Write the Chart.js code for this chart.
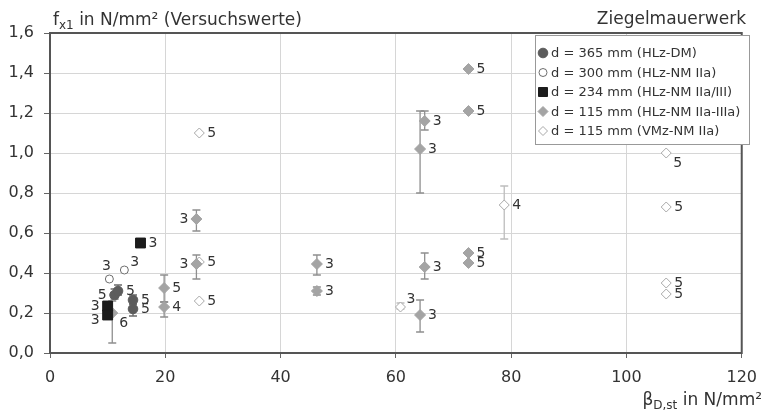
<!DOCTYPE html>
<html>
<head>
<meta charset="utf-8">
<script src="https://cdn.jsdelivr.net/npm/chart.js@4.4.1/dist/chart.umd.min.js"></script>
<style>
  html, body { margin: 0; padding: 0; background: #fff; }
  #wrap { width: 767px; height: 415px; position: relative; }
</style>
</head>
<body>
<div id="wrap"><canvas id="chart"></canvas></div>
<script>
// Axis ticks
const xTicks = [0, 20, 40, 60, 80, 100, 120];
const yTicks = [0, 0.2, 0.4, 0.6, 0.8, 1.0, 1.2, 1.4, 1.6];

// d = 365 mm (HLz-DM)
const x365 = [11.2, 11.8, 14.4, 14.4];
const y365 = [0.29, 0.31, 0.265, 0.22];
const lo365 = [0.27, 0.29, 0.245, 0.185];
const hi365 = [0.32, 0.34, 0.29, 0.245];
const n365 = [5, 5, 5, 5];
const side365 = ['l', 'r', 'r', 'r'];

// d = 300 mm (HLz-NM IIa)
const x300 = [10.3, 12.9];
const y300 = [0.37, 0.415];
const lo300 = [null, null];
const hi300 = [null, null];
const n300 = [3, 3];
const side300 = ['t', 'rt'];

// d = 234 mm (HLz-NM IIa/III)
const x234 = [10.0, 10.0, 15.7];
const y234 = [0.235, 0.19, 0.55];
const lo234 = [null, null, null];
const hi234 = [null, null, null];
const n234 = [3, 3, 3];
const side234 = ['l', 'lb', 'r'];

// d = 115 mm (HLz-NM IIa-IIIa)
const x115h = [10.8, 19.8, 19.8, 25.4, 25.4, 46.3, 46.3, 64.2, 65.0, 72.6, 72.6, 72.6, 72.6, 65.0, 64.2];
const y115h = [0.20, 0.325, 0.23, 0.67, 0.445, 0.445, 0.31, 1.02, 1.16, 1.42, 1.21, 0.50, 0.45, 0.43, 0.19];
const lo115h = [0.05, 0.255, 0.18, 0.61, 0.37, 0.39, 0.29, 0.80, 1.115, null, null, null, null, 0.37, 0.105];
const hi115h = [0.26, 0.39, 0.255, 0.715, 0.49, 0.49, 0.33, 1.21, 1.21, null, null, null, null, 0.50, 0.265];
const n115h = [6, 5, 4, 3, 3, 3, 3, 3, 3, 5, 5, 5, 5, 3, 3];
const side115h = ['rb', 'r', 'r', 'l', 'l', 'r', 'r', 'r', 'r', 'r', 'r', 'r', 'r', 'r', 'r'];

// d = 115 mm (VMz-NM IIa)
const x115v = [25.9, 25.9, 25.9, 60.8, 78.8, 106.9, 106.9, 106.9, 106.9];
const y115v = [1.10, 0.455, 0.26, 0.23, 0.74, 1.00, 0.73, 0.35, 0.295];
const lo115v = [null, null, null, 0.22, 0.57, null, null, null, null];
const hi115v = [null, null, null, 0.25, 0.835, null, null, null, null];
const n115v = [5, 5, 5, 3, 4, 5, 5, 5, 5];
const side115v = ['r', 'r', 'r', 'rt', 'r', 'rb', 'r', 'r', 'r'];

const seriesNames = [
  'd = 365 mm (HLz-DM)',
  'd = 300 mm (HLz-NM IIa)',
  'd = 234 mm (HLz-NM IIa/III)',
  'd = 115 mm (HLz-NM IIa-IIIa)',
  'd = 115 mm (VMz-NM IIa)'
];

const FONT = '"DejaVu Sans", Arial, sans-serif';
const pts = (xs, ys) => xs.map((x, i) => ({ x: x, y: ys[i] }));

const series = [
  { xs: x365, ys: y365, lo: lo365, hi: hi365, n: n365, side: side365,
    style: 'circle', r: 4.8, fill: '#5c5c5c', stroke: '#5c5c5c', err: '#6a6a6a' },
  { xs: x300, ys: y300, lo: lo300, hi: hi300, n: n300, side: side300,
    style: 'circle', r: 4, fill: '#ffffff', stroke: '#6e6e6e', err: '#6e6e6e' },
  { xs: x234, ys: y234, lo: lo234, hi: hi234, n: n234, side: side234,
    style: 'rect', r: 7, fill: '#1c1c1c', stroke: '#1c1c1c', err: '#1c1c1c' },
  { xs: x115h, ys: y115h, lo: lo115h, hi: hi115h, n: n115h, side: side115h,
    style: 'rectRot', r: 5.5, fill: '#a4a4a4', stroke: '#a4a4a4', err: '#8f8f8f' },
  { xs: x115v, ys: y115v, lo: lo115v, hi: hi115v, n: n115v, side: side115v,
    style: 'rectRot', r: 5, fill: '#ffffff', stroke: '#a8a8a8', err: '#bdbdbd' }
];

const datasets = series.map((s, i) => ({
  label: seriesNames[i],
  data: pts(s.xs, s.ys),
  pointStyle: s.style,
  pointRadius: s.r,
  pointBackgroundColor: s.fill,
  pointBorderColor: s.stroke,
  pointBorderWidth: 1,
  showLine: false
}));

// error bars, count labels, frame, legend, axis titles
const extras = {
  id: 'extras',
  beforeDatasetsDraw(chart) {
    const ctx = chart.ctx, ys = chart.scales.y;
    ctx.save();
    series.forEach((s, i) => {
      const meta = chart.getDatasetMeta(i);
      meta.data.forEach((p, j) => {
        if (s.lo[j] == null) return;
        const y1 = ys.getPixelForValue(s.lo[j]);
        const y2 = ys.getPixelForValue(s.hi[j]);
        ctx.strokeStyle = s.err;
        ctx.lineWidth = 1.3;
        ctx.beginPath();
        ctx.moveTo(p.x, y1); ctx.lineTo(p.x, y2);
        ctx.moveTo(p.x - 4, y1); ctx.lineTo(p.x + 4, y1);
        ctx.moveTo(p.x - 4, y2); ctx.lineTo(p.x + 4, y2);
        ctx.stroke();
      });
    });
    ctx.restore();
  },
  afterDatasetsDraw(chart) {
    const ctx = chart.ctx;
    ctx.save();
    ctx.font = '14px ' + FONT;
    ctx.fillStyle = '#333';
    series.forEach((s, i) => {
      const meta = chart.getDatasetMeta(i);
      meta.data.forEach((p, j) => {
        const t = String(s.n[j]);
        let x = p.x, y = p.y;
        ctx.textBaseline = 'middle';
        switch (s.side[j]) {
          case 'l': ctx.textAlign = 'right'; x -= 8; break;
          case 'lb': ctx.textAlign = 'right'; x -= 8; y += 5; break;
          case 't': ctx.textAlign = 'center'; x -= 3; y -= 13; break;
          case 'rt': ctx.textAlign = 'left'; x += 6; y -= 8; break;
          case 'rb': ctx.textAlign = 'left'; x += 7; y += 10; break;
          default: ctx.textAlign = 'left'; x += 8;
        }
        ctx.fillText(t, x, y);
      });
    });
    ctx.restore();
  },
  afterDraw(chart) {
    const ctx = chart.ctx, a = chart.chartArea;
    ctx.save();
    // plot frame
    ctx.strokeStyle = '#555';
    ctx.lineWidth = 2;
    ctx.strokeRect(a.left, a.top, a.right - a.left, a.bottom - a.top);

    // legend box
    const lx = 535, ly = 35, lw = 214, lh = 109;
    ctx.fillStyle = '#fff';
    ctx.fillRect(lx, ly, lw, lh);
    ctx.strokeStyle = '#999';
    ctx.lineWidth = 1;
    ctx.strokeRect(lx + 0.5, ly + 0.5, lw, lh);
    ctx.font = '13px ' + FONT;
    ctx.textBaseline = 'middle';
    ctx.textAlign = 'left';
    series.forEach((s, i) => {
      const cy = ly + 18 + i * 19.5, cx = lx + 8;
      ctx.fillStyle = s.fill;
      ctx.strokeStyle = s.stroke;
      ctx.lineWidth = 1;
      ctx.beginPath();
      if (s.style === 'circle') {
        ctx.arc(cx, cy, s.r, 0, Math.PI * 2);
      } else if (s.style === 'rect') {
        ctx.rect(cx - 4.5, cy - 4.5, 9, 9);
      } else {
        const r = s.r - 0.5;
        ctx.moveTo(cx - r, cy); ctx.lineTo(cx, cy - r);
        ctx.lineTo(cx + r, cy); ctx.lineTo(cx, cy + r);
        ctx.closePath();
      }
      ctx.fill(); ctx.stroke();
      ctx.fillStyle = '#333';
      ctx.fillText(seriesNames[i], lx + 16, cy + 1);
    });

    // y axis title with subscript
    ctx.fillStyle = '#333';
    ctx.textBaseline = 'alphabetic';
    ctx.textAlign = 'left';
    let x = 53;
    ctx.font = '17px ' + FONT;
    ctx.fillText('f', x, 25);
    x += ctx.measureText('f').width;
    ctx.font = '12px ' + FONT;
    ctx.fillText('x1', x, 29);
    x += ctx.measureText('x1').width;
    ctx.font = '17px ' + FONT;
    ctx.fillText(' in N/mm\u00b2 (Versuchswerte)', x, 25);

    // top right caption
    ctx.font = '17px ' + FONT;
    ctx.textAlign = 'right';
    ctx.fillText('Ziegelmauerwerk', 746, 24);

    // x axis title with subscript
    ctx.textAlign = 'left';
    ctx.font = '17px ' + FONT;
    const tail = ' in N/mm\u00b2';
    const wTail = ctx.measureText(tail).width;
    const wBeta = ctx.measureText('\u03b2').width;
    ctx.font = '12px ' + FONT;
    const wSub = ctx.measureText('D,st').width;
    let xx = 762 - wTail - wSub - wBeta;
    ctx.font = '17px ' + FONT;
    ctx.fillText('\u03b2', xx, 405);
    xx += wBeta;
    ctx.font = '12px ' + FONT;
    ctx.fillText('D,st', xx, 409);
    xx += wSub;
    ctx.font = '17px ' + FONT;
    ctx.fillText(tail, xx, 405);
    ctx.restore();
  }
};

new Chart(document.getElementById('chart'), {
  type: 'scatter',
  data: { datasets: datasets },
  plugins: [extras],
  options: {
    responsive: true,
    maintainAspectRatio: false,
    animation: false,
    layout: { padding: { top: 33, right: 16, left: 0, bottom: 0 } },
    plugins: { legend: { display: false }, tooltip: { enabled: false } },
    scales: {
      x: {
        type: 'linear',
        min: xTicks[0],
        max: xTicks[xTicks.length - 1],
        afterBuildTicks: (s) => { s.ticks = xTicks.map(v => ({ value: v })); },
        afterFit: (s) => { s.height = 62; },
        grid: { color: '#d6d6d6', lineWidth: 1, tickLength: 5, tickColor: '#666' },
        border: { display: false },
        ticks: { color: '#333', font: { family: FONT, size: 16 }, padding: 10, maxRotation: 0 }
      },
      y: {
        type: 'linear',
        min: yTicks[0],
        max: yTicks[yTicks.length - 1],
        afterBuildTicks: (s) => { s.ticks = yTicks.map(v => ({ value: v })); },
        afterFit: (s) => { s.width = 50; },
        grid: { color: '#d6d6d6', lineWidth: 1, tickLength: 6, tickColor: '#666' },
        border: { display: false },
        ticks: {
          color: '#333', font: { family: FONT, size: 16 }, padding: 10,
          callback: (v) => v.toFixed(1).replace('.', ',')
        }
      }
    }
  }
});
</script>
</body>
</html>
